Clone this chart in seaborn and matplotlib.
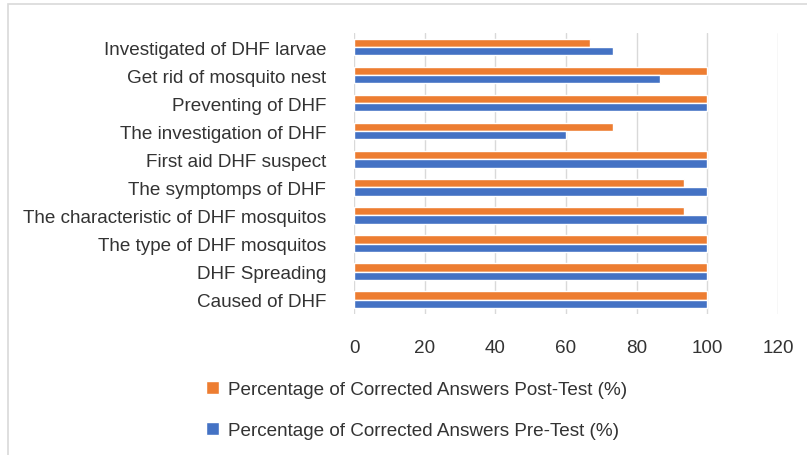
import matplotlib
matplotlib.use("Agg")
import matplotlib.pyplot as plt
from matplotlib.patches import Rectangle
import seaborn as sns
import pandas as pd

# Categories, top to bottom as drawn
topics = [
    "Investigated of DHF larvae",
    "Get rid of mosquito nest",
    "Preventing of DHF",
    "The investigation of DHF",
    "First aid DHF suspect",
    "The symptomps of DHF",
    "The characteristic of DHF mosquitos",
    "The type of DHF mosquitos",
    "DHF Spreading",
    "Caused of DHF",
]
post_test = [66.7, 100, 100, 73.3, 100, 93.3, 93.3, 100, 100, 100]
pre_test = [73.3, 86.7, 100, 60, 100, 100, 100, 100, 100, 100]

post_name = "Percentage of Corrected Answers Post-Test (%)"
pre_name = "Percentage of Corrected Answers Pre-Test (%)"

df = pd.concat([
    pd.DataFrame({"topic": topics, "value": post_test, "serie": post_name}),
    pd.DataFrame({"topic": topics, "value": pre_test, "serie": pre_name}),
])

sns.set_theme(style="white")
plt.rcParams["font.family"] = ["Liberation Sans", "DejaVu Sans"]

fig = plt.figure(figsize=(8.07, 4.56), dpi=100)
ax = fig.add_axes([0.4387, 0.31, 0.5254, 0.615])

# thin grey frame, only left and top edges fall inside the picture
fig.add_artist(Rectangle((8 / 807, -0.05), 1.0, 1.05 - 5 / 456,
                         transform=fig.transFigure, fill=False,
                         edgecolor="#d9d9d9", linewidth=1.2))

sns.barplot(
    data=df, y="topic", x="value", hue="serie", order=topics,
    hue_order=[post_name, pre_name],
    palette=["#ED7D31", "#4472C4"], width=0.58, orient="h",
    saturation=1, ax=ax, legend=True,
)

ax.set_xlim(0, 120)
ax.set_xticks(range(0, 121, 20))
ax.set_xlabel("")
ax.set_ylabel("")
ax.grid(axis="x", color="#d9d9d9", linewidth=1)
ax.set_axisbelow(True)
for s in ax.spines.values():
    s.set_visible(False)
ax.tick_params(axis="both", length=0, labelsize=13.6, labelcolor="#333333")
ax.tick_params(axis="x", pad=18)
ax.tick_params(axis="y", pad=20)

handles, labels = ax.get_legend_handles_labels()
ax.get_legend().remove()
fig.legend(
    handles, labels, loc="upper left", bbox_to_anchor=(0.234, 0.2),
    frameon=False, fontsize=13.6, labelspacing=1.25, handlelength=0.7,
    handleheight=0.7, handletextpad=0.45, labelcolor="#333333",
)

fig.savefig("out.png", dpi=100)
